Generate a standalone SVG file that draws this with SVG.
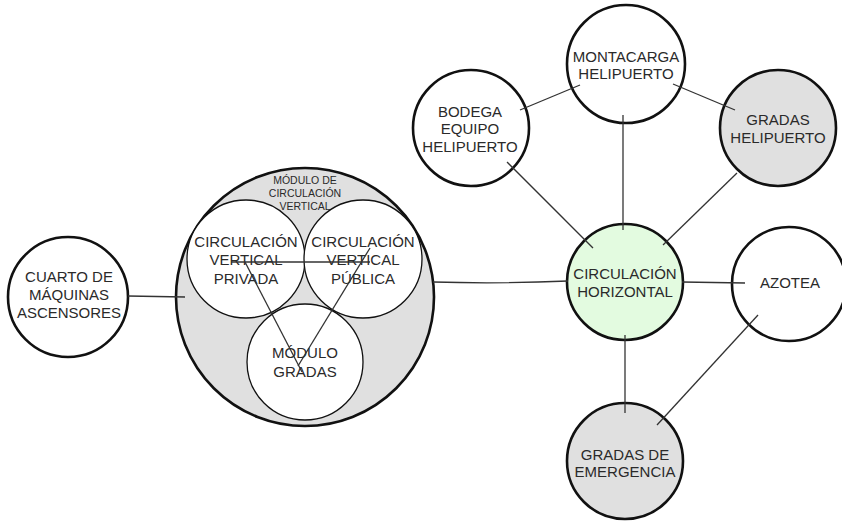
<svg xmlns="http://www.w3.org/2000/svg" width="842" height="523" viewBox="0 0 842 523">
<style>
.node{stroke:#111;stroke-width:2.6;fill:#fff}
.grey{fill:#e0e0e0}
.green{fill:#e3fbe0}
.inner{stroke:#111;stroke-width:1.3;fill:#fff}
.conn line,.conn path{stroke:#333;stroke-width:1.3;fill:none}
text{font-family:"Liberation Sans",Arial,sans-serif;font-size:15px;fill:#2a2a2a;text-anchor:middle}
.small{font-size:10.5px}
</style>
<rect width="842" height="523" fill="#fff"/>
<g id="modulo-circulacion-vertical">
<circle class="node grey" cx="305" cy="297" r="129"/>
<text class="small" x="305" y="184">MÓDULO DE</text>
<text class="small" x="305" y="197">CIRCULACIÓN</text>
<text class="small" x="305" y="210">VERTICAL</text>
</g>
<g id="circulacion-vertical-privada">
<circle class="inner" cx="246" cy="259" r="59"/>
<text x="246" y="247">CIRCULACIÓN</text>
<text x="246" y="265">VERTICAL</text>
<text x="246" y="284">PRIVADA</text>
</g>
<g id="circulacion-vertical-publica">
<circle class="inner" cx="363" cy="259" r="59"/>
<text x="363" y="247">CIRCULACIÓN</text>
<text x="363" y="265">VERTICAL</text>
<text x="363" y="284">PÚBLICA</text>
</g>
<g id="modulo-gradas">
<circle class="inner" cx="305" cy="362" r="58"/>
<text x="305" y="358">MÓDULO</text>
<text x="305" y="377">GRADAS</text>
</g>
<g id="cuarto-maquinas">
<circle class="node" cx="68" cy="297" r="60"/>
<text x="69" y="282">CUARTO DE</text>
<text x="69" y="300">MÁQUINAS</text>
<text x="69" y="318">ASCENSORES</text>
</g>
<g id="circulacion-horizontal">
<circle class="node green" cx="625" cy="282" r="58"/>
<text x="625" y="279">CIRCULACIÓN</text>
<text x="625" y="297">HORIZONTAL</text>
</g>
<g id="montacarga-helipuerto">
<circle class="node" cx="626" cy="64" r="59"/>
<text x="626" y="62">MONTACARGA</text>
<text x="626" y="79">HELIPUERTO</text>
</g>
<g id="bodega-equipo-helipuerto">
<circle class="node" cx="471" cy="128" r="58"/>
<text x="470" y="117">BODEGA</text>
<text x="470" y="134">EQUIPO</text>
<text x="470" y="152">HELIPUERTO</text>
</g>
<g id="gradas-helipuerto">
<circle class="node grey" cx="778" cy="128" r="58"/>
<text x="778" y="125">GRADAS</text>
<text x="778" y="143">HELIPUERTO</text>
</g>
<g id="azotea">
<circle class="node" cx="789" cy="284" r="57"/>
<text x="790" y="288">AZOTEA</text>
</g>
<g id="gradas-emergencia">
<circle class="node grey" cx="625" cy="461" r="58"/>
<text x="625" y="460">GRADAS DE</text>
<text x="625" y="477">EMERGENCIA</text>
</g>
<g id="connectors" class="conn">
<line x1="231" y1="262" x2="370" y2="262"/>
<line x1="245" y1="262" x2="302" y2="372"/>
<line x1="370" y1="248" x2="298" y2="366"/>
<line x1="128" y1="296" x2="185" y2="297"/>
<path d="M433 282 Q500 284 568 281"/>
<line x1="520" y1="110" x2="580" y2="85"/>
<line x1="673" y1="84" x2="735" y2="110"/>
<line x1="623" y1="115" x2="623" y2="230"/>
<line x1="507" y1="162" x2="593" y2="248"/>
<line x1="737" y1="173" x2="663" y2="245"/>
<line x1="682" y1="282" x2="745" y2="283"/>
<line x1="758" y1="315" x2="657" y2="425"/>
<line x1="625" y1="335" x2="625" y2="413"/>
</g>
</svg>
